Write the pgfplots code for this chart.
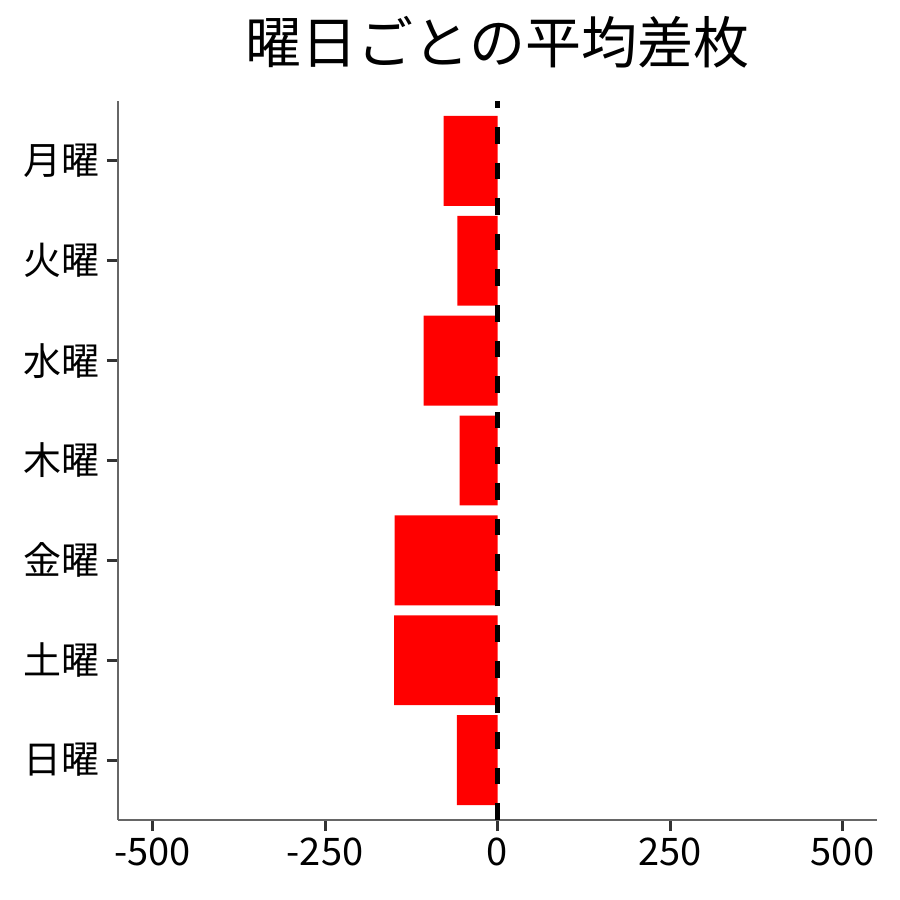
\documentclass[border=0pt]{standalone}
\usepackage{fontspec}
\setmainfont{Noto Sans CJK JP}
\usepackage{pgfplots}
\pgfplotsset{compat=1.18}

\definecolor{spine}{HTML}{666666}
\definecolor{tickc}{HTML}{333333}

\begin{document}
\begin{tikzpicture}
% page = 900 px = 450pt; axis box lower-left at (59pt,40pt) of the page
\path[use as bounding box] (-59pt,-40pt) rectangle (391pt,410pt);
\begin{axis}[
    scale only axis,
    width=379.5pt, height=359.5pt,
    xmin=-550, xmax=550,
    ymin=-0.6, ymax=6.6,
    axis x line=bottom, axis y line=left,
    axis line style={spine, line width=0.6pt, -},
    xtick={-500,-250,0,250,500},
    xticklabels={-500,-250,0,250,500},
    ytick={0,1,2,3,4,5,6},
    yticklabels={日曜,土曜,金曜,木曜,水曜,火曜,月曜},
    tick align=outside,
    major tick length=5.5pt,
    tick style={tickc, line width=1.5pt},
    ticklabel style={font=\fontsize{19}{22}\selectfont},
    /pgf/number format/assume math mode=true,
    title={曜日ごとの平均差枚},
    title style={font=\fontsize{28}{32}\selectfont, at={(0.5,1)}, anchor=base, yshift=13pt},
    clip=false,
]
\addplot[xbar, bar width=0.9, fill=red, draw=none] coordinates {
    (-59,0)
    (-150,1)
    (-149,2)
    (-55,3)
    (-107,4)
    (-58,5)
    (-78,6)
};
\addplot[black, line width=2.2pt, dash pattern=on 8.3pt off 9.5pt, mark=none]
    coordinates {(0,-0.6) (0,6.6)};
\end{axis}
\end{tikzpicture}
\end{document}
